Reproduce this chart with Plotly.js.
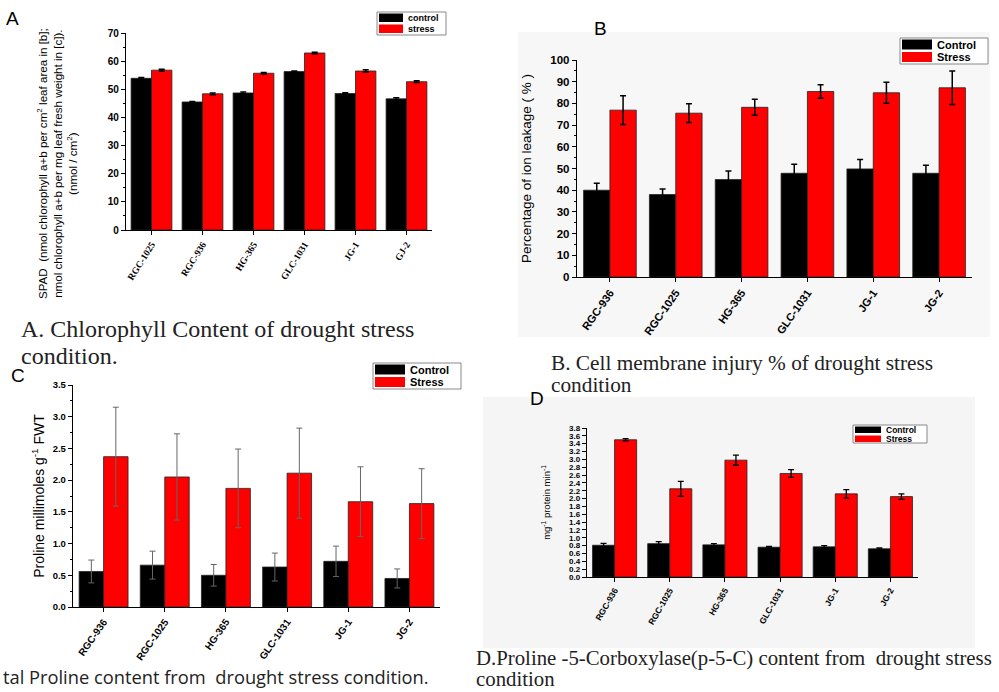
<!DOCTYPE html>
<html>
<head>
<meta charset="utf-8">
<script src="https://cdn.plot.ly/plotly-3.0.1.min.js"></script>
<style>html,body{margin:0;padding:0;background:#fff;}#chart{width:999px;height:692px;}</style>
</head>
<body>
<div id="chart"></div>
<script>
// ---------- DATA ----------
const seriesNames = ['Control', 'Stress'];
const seriesNamesA = ['control', 'stress'];

const catsA = ['RGC-1025', 'RGC-936', 'HG-365', 'GLC-1031', 'JG-1', 'GJ-2'];
const ctrlA = [53.9, 45.5, 48.7, 56.3, 48.5, 46.6];
const ctrlAErr = [0.3, 0.2, 0.3, 0.2, 0.3, 0.4];
const strA = [56.8, 48.4, 55.7, 62.9, 56.5, 52.7];
const strAErr = [0.3, 0.3, 0.3, 0.3, 0.4, 0.3];

const catsB = ['RGC-936', 'RGC-1025', 'HG-365', 'GLC-1031', 'JG-1', 'JG-2'];
const ctrlB = [40, 38, 44.9, 47.8, 49.8, 47.8];
const ctrlBErr = [3.2, 2.6, 4.0, 4.2, 4.4, 3.7];
const strB = [76.9, 75.5, 78.2, 85.5, 84.9, 87.2];
const strBErr = [6.6, 4.3, 3.7, 3.1, 4.8, 7.7];

const catsC = ['RGC-936', 'RGC-1025', 'HG-365', 'GLC-1031', 'JG-1', 'JG-2'];
const ctrlC = [0.56, 0.66, 0.50, 0.63, 0.72, 0.45];
const ctrlCErr = [0.18, 0.22, 0.17, 0.22, 0.24, 0.15];
const strC = [2.37, 2.05, 1.87, 2.11, 1.66, 1.63];
const strCErr = [0.78, 0.68, 0.62, 0.71, 0.55, 0.55];

const catsD = ['RGC-936', 'RGC-1025', 'HG-365', 'GLC-1031', 'JG-1', 'JG-2'];
const ctrlD = [0.81, 0.85, 0.82, 0.76, 0.77, 0.72];
const ctrlDErr = [0.05, 0.05, 0.03, 0.02, 0.03, 0.02];
const strD = [3.50, 2.25, 2.98, 2.64, 2.12, 2.05];
const strDErr = [0.03, 0.19, 0.13, 0.10, 0.11, 0.07];

const panelTitles = ['A', 'B', 'C', 'D'];
const yTitleA = 'SPAD  (nmol chlorophyll a+b per cm<sup>2</sup> leaf area in [b];<br>nmol chlorophyll a+b per mg leaf fresh weight in [c]).<br>(nmol / cm<sup>2</sup>)';
const captionA = ['A. Chlorophyll Content of drought stress', 'condition.'];
const captionB = ['B. Cell membrane injury % of drought stress', 'condition'];
const captionC = ['tal Proline content from  drought stress condition.'];
const captionD = ['D.Proline -5-Corboxylase(p-5-C) content from  drought stress', 'condition'];

// ---------- HELPERS ----------
const W = 999, H = 692;
const fx = p => p / W;
const fy = p => 1 - p / H;
const BLACK = '#000000', RED = '#ff0000';
const SANS = 'Liberation Sans, Arial, sans-serif';
const SERIF = 'Liberation Serif, Times New Roman, serif';

function bar(x, y, err, color, xa, ya, name, errStyle) {
  return {
    type: 'bar', x: x, y: y, name: name, xaxis: xa, yaxis: ya, showlegend: false,
    marker: {color: color, line: {color: '#222', width: 0.8}},
    error_y: Object.assign({type: 'data', array: err, visible: true, color: '#000', thickness: 1.5, width: 3}, errStyle || {})
  };
}

const data = [
  bar(catsA, ctrlA, ctrlAErr, BLACK, 'x', 'y', seriesNamesA[0]),
  bar(catsA, strA, strAErr, RED, 'x', 'y', seriesNamesA[1]),
  bar(catsB, ctrlB, ctrlBErr, BLACK, 'x2', 'y2', seriesNames[0]),
  bar(catsB, strB, strBErr, RED, 'x2', 'y2', seriesNames[1]),
  bar(catsC, ctrlC, ctrlCErr, BLACK, 'x3', 'y3', seriesNames[0], {color: '#666', thickness: 1, width: 3}),
  bar(catsC, strC, strCErr, RED, 'x3', 'y3', seriesNames[1], {color: '#666', thickness: 1, width: 3}),
  bar(catsD, ctrlD, ctrlDErr, BLACK, 'x4', 'y4', seriesNames[0], {thickness: 1.3, width: 3}),
  bar(catsD, strD, strDErr, RED, 'x4', 'y4', seriesNames[1], {thickness: 1.3, width: 3})
];

function xAxis(dom, anchor, font, angle) {
  return {domain: dom, anchor: anchor, type: 'category', showline: true, linecolor: '#000', linewidth: 1.2,
    ticks: 'outside', ticklen: 4, tickcolor: '#000', showgrid: false, zeroline: false,
    tickangle: angle, tickfont: font, fixedrange: true};
}
function yAxis(dom, anchor, range, dtick, font, minorDtick, title) {
  const ax = {domain: dom, anchor: anchor, range: range, dtick: dtick, showline: true, linecolor: '#000', linewidth: 1.2,
    ticks: 'outside', ticklen: 4, tickcolor: '#000', showgrid: false, zeroline: false,
    tickfont: font, fixedrange: true};
  if (title) ax.title = title;
  if (minorDtick) ax.minor = {ticks: 'outside', ticklen: 2, tickcolor: '#000', dtick: minorDtick, showgrid: false};
  return ax;
}

const layout = {
  width: W, height: H, autosize: false,
  margin: {l: 0, r: 0, t: 0, b: 0},
  paper_bgcolor: 'rgba(0,0,0,0)', plot_bgcolor: 'rgba(0,0,0,0)',
  barmode: 'group', bargap: 0.2, bargroupgap: 0,
  showlegend: false,
  font: {family: SANS, color: '#000'},
  xaxis: xAxis([fx(126), fx(432)], 'y', {family: SERIF, size: 9.5, weight: 'bold'}, -58),
  yaxis: yAxis([fy(230), fy(33)], 'x', [0, 70], 10, {family: SANS, size: 10, weight: 'bold'}, 5, null),
  xaxis2: xAxis([fx(577), fx(972)], 'y2', {family: SANS, size: 11, weight: 'bold'}, -55),
  yaxis2: yAxis([fy(277), fy(60)], 'x2', [0, 100], 10, {family: SANS, size: 11.5, weight: 'bold'}, 5,
    {text: 'Percentage of ion leakage ( % )', font: {family: SANS, size: 13.5}, standoff: 15}),
  xaxis3: xAxis([fx(73), fx(440)], 'y3', {family: SANS, size: 10, weight: 'bold'}, -55),
  yaxis3: yAxis([fy(607), fy(385)], 'x3', [0, 3.5], 0.5, {family: SANS, size: 9.5, weight: 'bold'}, 0.25,
    {text: 'Proline millimoles g<sup>-1</sup> FWT', font: {family: SANS, size: 14}, standoff: 4}),
  xaxis4: xAxis([fx(587), fx(918)], 'y4', {family: SANS, size: 8.5, weight: 'bold'}, -60),
  yaxis4: yAxis([fy(577), fy(428)], 'x4', [0, 3.8], 0.2, {family: SANS, size: 8, weight: 'bold'}, null,
    {text: 'mg<sup>-1</sup> protein min<sup>-1</sup>', font: {family: SANS, size: 9.5}, standoff: 16}),
  shapes: [],
  annotations: []
};
layout.yaxis4.tickformat = '.1f';
layout.yaxis3.tickformat = '.1f';

// Panel A y-axis title (three lines, set lower than the axis centre as in the figure)
layout.annotations.push({xref: 'paper', yref: 'paper', x: fx(57), y: fy(164), xanchor: 'center', yanchor: 'middle',
  textangle: -90, align: 'center', showarrow: false, text: yTitleA, font: {family: SANS, size: 11.6, color: '#000'}});

// light grey photo backgrounds of panels B and D
layout.shapes.push({type: 'rect', xref: 'paper', yref: 'paper', x0: fx(518), x1: fx(990), y0: fy(337), y1: fy(32),
  fillcolor: '#f7f7f7', line: {width: 0}, layer: 'below'});
layout.shapes.push({type: 'rect', xref: 'paper', yref: 'paper', x0: fx(483), x1: fx(975), y0: fy(648), y1: fy(397),
  fillcolor: '#f5f5f5', line: {width: 0}, layer: 'below'});

// legends (box + swatches + labels)
function legendBox(box, names, font) {
  layout.shapes.push({type: 'rect', xref: 'paper', yref: 'paper', x0: fx(box.x0), x1: fx(box.x1), y0: fy(box.y1), y1: fy(box.y0),
    fillcolor: '#ffffff', line: {color: '#888', width: 1}, layer: 'above'});
  const colors = [BLACK, RED];
  names.forEach((n, i) => {
    const top = box.y0 + 1.5 + i * box.row;
    layout.shapes.push({type: 'rect', xref: 'paper', yref: 'paper', x0: fx(box.x0 + 2), x1: fx(box.x0 + 2 + box.sw),
      y0: fy(top + box.row - 2.5), y1: fy(top), fillcolor: colors[i], line: {width: 0}, layer: 'above'});
    layout.annotations.push({xref: 'paper', yref: 'paper', x: fx(box.x0 + box.sw + 5), y: fy(top + (box.row - 2.5) / 2),
      xanchor: 'left', yanchor: 'middle', showarrow: false, text: n, font: font});
  });
}
legendBox({x0: 377, x1: 446, y0: 12, y1: 35, row: 11, sw: 24}, seriesNamesA, {family: SANS, size: 9, weight: 'bold'});
legendBox({x0: 900, x1: 988, y0: 38, y1: 64, row: 12.5, sw: 30}, seriesNames, {family: SANS, size: 11, weight: 'bold'});
legendBox({x0: 373, x1: 461, y0: 363, y1: 389, row: 12.5, sw: 30}, seriesNames, {family: SANS, size: 11, weight: 'bold'});
legendBox({x0: 853, x1: 927, y0: 425, y1: 443, row: 9, sw: 26}, seriesNames, {family: SANS, size: 8.5, weight: 'bold'});

// panel letters
[[12, 18], [600, 28], [18, 375], [537, 398]].forEach((p, i) => {
  layout.annotations.push({xref: 'paper', yref: 'paper', x: fx(p[0]), y: fy(p[1]), xanchor: 'center', yanchor: 'middle',
    showarrow: false, text: panelTitles[i], font: {family: SANS, size: 19}});
});

// captions, one annotation per line
function caption(lines, x, yFirst, gap, font, lastBottom) {
  lines.forEach((t, i) => {
    const isLast = i === lines.length - 1;
    const ann = {xref: 'paper', yref: 'paper', x: fx(x), y: fy(yFirst + i * gap), xanchor: 'left', yanchor: 'middle',
      align: 'left', showarrow: false, text: t, font: font};
    if (isLast && lastBottom) { ann.y = fy(lastBottom); ann.yanchor = 'bottom'; }
    layout.annotations.push(ann);
  });
}
caption(captionA, 19, 329, 27, {family: SERIF, size: 24, color: '#222'});
caption(captionB, 549, 363, 22, {family: SERIF, size: 21.3, color: '#222'});
caption(captionC, 1, 682, 0, {family: 'Open Sans, sans-serif', size: 18.3, color: '#222'}, 691);
caption(captionD, 474, 658, 24, {family: SERIF, size: 20.8, color: '#222'}, 691.5);

Plotly.newPlot('chart', data, layout, {displayModeBar: false, staticPlot: true});
</script>
</body>
</html>
